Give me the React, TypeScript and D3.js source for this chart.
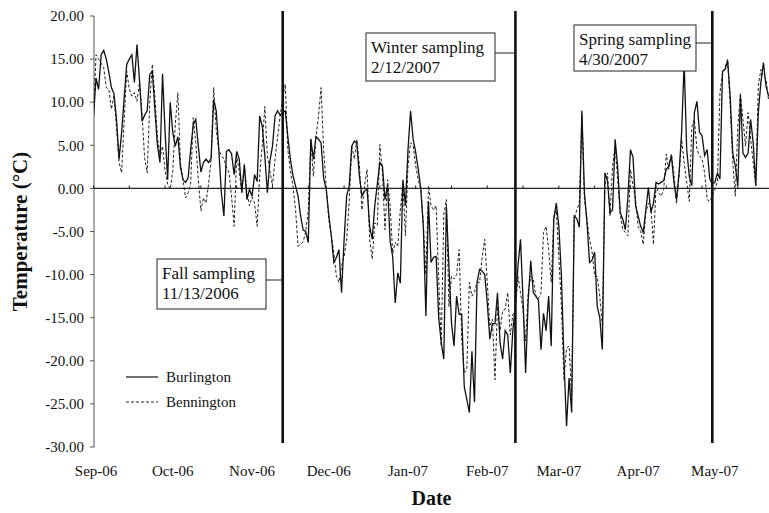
import React from "react";
import * as d3 from "d3";

// ---- data (daily mean temperature, °C), first value = 2006-08-31 ----
const startDate = "2006-08-31";
const endDate = "2007-05-23";

const burlington: number[] = [
  8.4, 12.8, 11.5, 15.5, 16.0, 15.0, 13.5, 11.7, 11.0, 8.0,
  3.4, 6.5, 10.5, 14.4, 15.0, 15.5, 12.3, 16.7, 12.5, 7.8,
  8.5, 9.0, 13.2, 13.6, 9.2, 5.0, 3.0, 13.3, 6.5, 1.0,
  10.0, 6.5, 4.9, 6.0, 2.5, 1.0, 0.7, 1.2, 4.5, 7.4,
  8.0, 4.9, 1.9, 3.0, 3.4, 3.0, 3.5, 10.3, 9.0, 4.5,
  -0.5, -3.2, 4.3, 4.5, 4.0, 1.6, 4.3, 3.4, -0.5, 2.8,
  -1.3, -0.1, -0.9, 1.6, 0.8, 8.4, 7.2, 3.8, -0.5, 3.2,
  4.9, 8.4, 9.0, 8.5, 8.8, 9.0, 6.0, 3.4, 1.5, 0.3,
  -0.9, -3.2, -4.8, -5.0, -6.3, 5.7, 3.4, 6.0, 5.7, 5.3,
  1.2, -0.1, -3.0, -5.5, -8.6, -8.0, -7.1, -12.1, -6.0, -0.9,
  0.3, 4.9, 5.5, 5.2, 1.4, -0.9, -0.3, -0.1, -4.4, -5.9,
  -2.0, 0.5, 3.0, 2.6, -1.3, 0.3, -6.1, -7.9, -13.3, -9.8,
  -11.0, 1.0, -2.0, 4.5, 9.0, 5.7, 4.2, 2.2, 0.0, -4.5,
  -14.8, -1.5, -8.6, -8.0, -7.9, -15.0, -17.9, -19.8, -2.1, -9.0,
  -15.6, -18.3, -12.5, -14.6, -14.6, -23.0, -24.5, -26.0, -18.9, -24.8,
  -10.9, -9.4, -9.6, -10.0, -13.3, -17.5, -15.7, -15.7, -12.1, -17.9,
  -19.8, -16.5, -17.0, -21.4, -16.5, -13.5, -9.0, -5.9, -13.0, -21.4,
  -13.0, -8.4, -12.1, -12.5, -13.0, -18.7, -14.5, -16.5, -12.5, -18.3,
  -3.5, -1.7, -4.4, -10.2, -20.0, -27.6, -22.0, -26.0, -3.2, -3.5,
  -4.5, 9.0, -0.5, -4.0, -8.6, -8.3, -7.4, -13.7, -15.0, -18.7,
  1.8, 0.9, -2.8, -2.5, 5.7, 2.5, -2.8, -3.6, -4.8, -1.0,
  4.5, 3.6, -2.0, -3.2, -4.4, -5.1, -2.5, 0.1, -2.8, -1.7,
  0.7, 0.5, 0.7, 0.9, 2.2, 2.6, 3.8, 0.7, -1.3, 1.8,
  6.5, 14.6, 4.5, 1.4, 0.3, 8.8, 10.1, 6.5, 6.1, 3.8,
  4.5, 1.1, 0.5, 0.7, 1.8, 1.1, 13.6, 13.8, 14.8, 10.7,
  4.1, 2.6, 0.3, 10.7, 4.1, 3.6, 4.1, 8.0, 5.3, 0.3,
  8.8, 12.3, 14.6, 11.9, 10.7,
];

const bennington: number[] = [
  8.4, 15.5, 15.0, 14.5, 14.0, 11.7, 11.5, 9.2, 10.7, 7.0,
  3.0, 1.8, 8.0, 13.6, 11.5, 10.7, 11.1, 10.1, 12.3, 8.5,
  3.5, 1.8, 10.0, 14.4, 10.7, 6.0, 3.6, 4.9, 2.0, 0.5,
  -0.1, 2.0, 7.5, 11.1, 3.0, 1.0, -1.1, -0.5, 0.5, 8.2,
  5.3, 1.0, -2.6, -1.1, -1.7, 0.5, 3.4, 11.7, 6.8, 4.5,
  3.8, 3.4, 2.5, 1.8, -1.0, -4.4, 3.8, 2.0, -0.5, 2.6,
  -0.5, -2.0, -1.0, -1.7, -4.4, 1.6, 5.0, 9.5, 3.8, 2.0,
  0.3, 3.4, 6.0, 8.4, 10.5, 12.1, 4.5, 2.0, 0.3, -2.4,
  -6.7, -6.5, -6.2, -5.0, -2.6, 5.7, 1.4, 6.0, 8.4, 11.7,
  4.5, 0.3, -3.6, -5.5, -7.5, -10.2, -10.9, -9.0, -7.9, -6.0,
  -1.5, 4.9, 3.4, 5.7, 2.6, -2.5, 0.3, 2.2, -5.9, -8.2,
  -4.0, -4.3, 5.1, 1.8, -4.8, 1.0, -2.0, -7.5, -6.3, -6.7,
  -2.5, 0.7, -5.5, 2.6, 5.3, 5.0, 2.6, 1.0, -0.1, -4.0,
  -10.0, 0.3, -2.0, -2.5, -2.0, -10.5, -18.3, -3.0, -1.3, -13.7,
  -10.2, -10.5, -10.0, -7.1, -17.5, -21.4, -21.0, -10.9, -12.5, -12.0,
  -10.9, -10.9, -8.0, -5.9, -10.9, -16.0, -15.2, -22.2, -13.7, -16.5,
  -14.2, -14.0, -12.1, -17.0, -14.6, -14.2, -10.2, -12.1, -14.2, -17.7,
  -12.1, -10.2, -10.5, -12.5, -12.8, -12.1, -5.1, -4.4, -7.1, -10.9,
  -3.6, -2.5, -8.0, -13.7, -22.2, -18.5, -18.3, -24.0, -3.6, -2.5,
  -1.7, 8.5, -1.3, -3.6, -5.9, -7.4, -10.2, -10.2, -12.5, -16.0,
  0.3, 1.8, -3.2, 2.6, 4.9, 1.0, -3.0, -4.8, -5.1, -5.5,
  2.2, 0.3, -1.3, -4.4, -5.0, -6.5, -2.8, -1.7, -2.2, -6.5,
  0.3, -0.5, -0.9, -0.1, 4.0, 2.2, 4.0, 1.8, -1.8, 1.4,
  5.7, 3.0, 0.7, -1.5, 7.2, 8.0, 4.5, 3.8, 3.4, 1.8,
  -1.3, -1.5, -0.9, -0.1, 0.8, 11.1, 13.4, 14.0, 15.0, 9.6,
  3.0, -0.9, 7.2, 11.1, 8.0, 4.9, 8.8, 5.7, 3.0, 0.3,
  11.9, 13.8, 13.0, 12.7, 10.3,
];

const yTicks: number[] = [20, 15, 10, 5, 0, -5, -10, -15, -20, -25, -30];
const monthLabels: string[] = ["2006-09-01", "2006-10-01", "2006-11-01", "2006-12-01", "2007-01-01", "2007-02-01", "2007-03-01", "2007-04-01", "2007-05-01"];
const samplingDates: string[] = ["2006-11-13", "2007-02-12", "2007-04-30"];
const samplingTitles: string[] = ["Fall sampling", "Winter sampling", "Spring sampling"];
const samplingLabels: string[] = ["11/13/2006", "2/12/2007", "4/30/2007"];
const seriesNames: string[] = ["Burlington", "Bennington"];

// ---- layout ----
const W = 769;
const H = 513;
const FONT = "'Liberation Serif', 'Times New Roman', serif";
const boxLayout = [
  { x: 157, y: 259, w: 109, h: 50, cy: 280 },
  { x: 366, y: 33, w: 129, h: 48, cy: 53 },
  { x: 574, y: 25, w: 122, h: 46, cy: 43 },
];

const parse = (s: string) => {
  const [a, b, c] = s.split("-").map(Number);
  return new Date(Date.UTC(a, b - 1, c));
};
const DAY = 86400000;

export default function App() {
  const t0 = parse(startDate);
  const t1 = parse(endDate);
  const x = d3.scaleUtc().domain([t0, t1]).range([93.5, 771.1]);
  const y = d3.scaleLinear().domain([-30, 20]).range([447, 16]);
  const axisX = 94;
  const fmt = d3.utcFormat("%b-%y");

  const toPts = (arr: number[]) => arr.map((v, i) => ({ d: new Date(t0.getTime() + i * DAY), v }));
  const line = d3
    .line<{ d: Date; v: number }>()
    .x((p) => x(p.d))
    .y((p) => y(p.v));

  const zeroTicks = d3.range(0, burlington.length, 14).map((i) => new Date(t0.getTime() + i * DAY));

  return (
    <svg
      width={W}
      height={H}
      style={{ position: "absolute", left: 0, top: 0, background: "#fff" }}
      fontFamily={FONT}
    >
      <rect x={0} y={0} width={W} height={H} fill="#fff" />
      <defs>
        <clipPath id="plotClip">
          <rect x={axisX} y={0} width={W - axisX} height={H} />
        </clipPath>
      </defs>

      {/* y axis */}
      <line x1={axisX} x2={axisX} y1={y(20)} y2={y(-30)} stroke="#555" strokeWidth={1} />
      {yTicks.map((t) => (
        <g key={t}>
          <line x1={axisX - 4} x2={axisX} y1={y(t)} y2={y(t)} stroke="#555" strokeWidth={1} />
          <text x={axisX - 10} y={y(t)} dy="0.35em" textAnchor="end" fontSize={15} fill="#111">
            {t.toFixed(2)}
          </text>
        </g>
      ))}

      {/* zero line (x axis) */}
      <line x1={axisX} x2={W} y1={y(0)} y2={y(0)} stroke="#222" strokeWidth={1.2} />
      {zeroTicks.map((d, i) => (
        <line key={i} x1={x(d)} x2={x(d)} y1={y(0) - 3} y2={y(0)} stroke="#222" strokeWidth={1} />
      ))}

      {/* month labels */}
      {monthLabels.map((m) => (
        <text key={m} x={x(parse(m))} y={476} textAnchor="middle" fontSize={15} fill="#111">
          {fmt(parse(m))}
        </text>
      ))}

      {/* series */}
      <g clipPath="url(#plotClip)">
        <path d={line(toPts(bennington)) || ""} fill="none" stroke="#222" strokeWidth={1} strokeDasharray="3,2" />
        <path d={line(toPts(burlington)) || ""} fill="none" stroke="#111" strokeWidth={1.3} />
      </g>

      {/* sampling lines and annotations */}
      {samplingDates.map((s, i) => {
        const sx = x(parse(s));
        const b = boxLayout[i];
        return (
          <g key={s}>
            <line x1={sx} x2={sx} y1={11} y2={443} stroke="#111" strokeWidth={2.6} />
            <line x1={b.x + b.w} x2={sx} y1={b.cy} y2={b.cy} stroke="#222" strokeWidth={1} />
            <rect x={b.x} y={b.y} width={b.w} height={b.h} fill="#fff" stroke="#222" strokeWidth={1} />
            <text x={b.x + 5} y={b.y + 20} fontSize={17} fill="#111">
              {samplingTitles[i]}
            </text>
            <text x={b.x + 5} y={b.y + 40} fontSize={17} fill="#111">
              {samplingLabels[i]}
            </text>
          </g>
        );
      })}

      {/* legend */}
      <line x1={126} x2={158} y1={377} y2={377} stroke="#111" strokeWidth={1.2} />
      <text x={166} y={382} fontSize={15} fill="#111">{seriesNames[0]}</text>
      <line x1={126} x2={158} y1={402} y2={402} stroke="#222" strokeWidth={1} strokeDasharray="3,2" />
      <text x={166} y={407} fontSize={15} fill="#111">{seriesNames[1]}</text>

      {/* axis titles */}
      <text
        transform={`translate(27, ${(y(20) + y(-30)) / 2}) rotate(-90)`}
        textAnchor="middle"
        fontSize={21}
        fontWeight="bold"
        fill="#111"
      >
        Temperature (°C)
      </text>
      <text x={(axisX + W) / 2} y={505} textAnchor="middle" fontSize={20} fontWeight="bold" fill="#111">
        Date
      </text>
    </svg>
  );
}
